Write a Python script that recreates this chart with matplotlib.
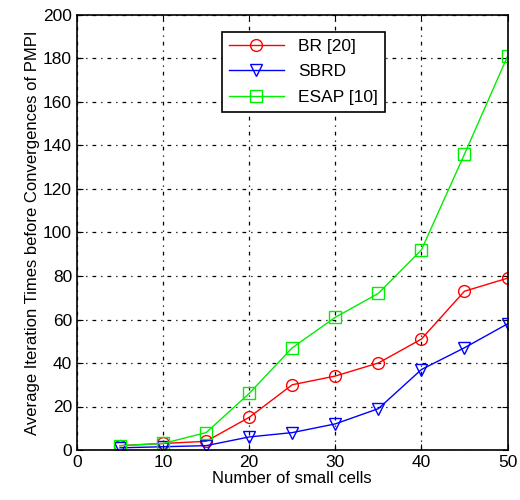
import matplotlib
matplotlib.use("Agg")
import matplotlib.pyplot as plt

plt.rcParams['font.family'] = ['Liberation Sans', 'DejaVu Sans']

cells = [5, 10, 15, 20, 25, 30, 35, 40, 45, 50]
br = [2, 3, 4, 15, 30, 34, 40, 51, 73, 79]
sbrd = [1, 1.5, 2, 6, 8, 12, 19, 37, 47, 58]
esap = [2, 3, 8, 26, 47, 61, 72, 92, 136, 181]

fig = plt.figure(figsize=(5.2, 5.0), dpi=100)
ax = fig.add_axes([0.148, 0.1, 0.828, 0.87])

ax.plot(cells, br, color='r', marker='o', mfc='none', ms=8.5, lw=1, label='BR [20]')
ax.plot(cells, sbrd, color='b', marker='v', mfc='none', ms=8.5, lw=1, label='SBRD')
ax.plot(cells, esap, color='#00ee00', marker='s', mfc='none', ms=8.5, lw=1, label='ESAP [10]')

ax.set_xlim(0, 50)
ax.set_ylim(0, 200)
ax.set_xticks(range(0, 51, 10))
ax.set_yticks(range(0, 201, 20))
ax.grid(True, color='k', linestyle=(0, (3, 4, 1, 4)), linewidth=0.9)
ax.tick_params(direction='in', labelsize=12.5, top=True, right=True, length=4)
for s in ax.spines.values():
    s.set_linewidth(1.2)

ax.set_xlabel('Number of small cells', fontsize=12, labelpad=1)
ax.set_ylabel('Average Iteration Times before Convergences of PMPI', fontsize=12, labelpad=2)

leg = ax.legend(loc='upper left', bbox_to_anchor=(0.336, 0.962), borderaxespad=0,
                fontsize=12.5, fancybox=False, edgecolor='k', framealpha=1,
                handlelength=3.2, labelspacing=0.6)
leg.get_frame().set_linewidth(1.2)

fig.savefig('out.png', dpi=100)
